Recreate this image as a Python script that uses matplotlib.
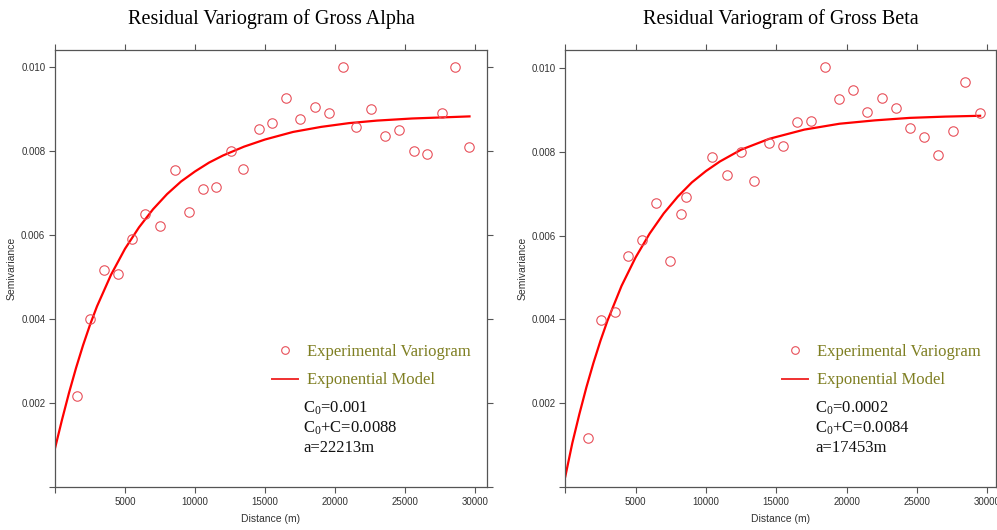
import matplotlib
matplotlib.use("Agg")
import matplotlib.pyplot as plt
from matplotlib.lines import Line2D

plt.rcParams['mathtext.fontset'] = 'custom'
plt.rcParams['mathtext.rm'] = 'Liberation Serif'
plt.rcParams['mathtext.it'] = 'Liberation Serif:italic'

# ---------------- data ----------------
alpha_lag = [1571, 2524, 3524, 4524, 5476, 6452, 7524, 8595, 9548, 10548, 11524, 12548,
             13452, 14571, 15524, 16500, 17524, 18548, 19548, 20548, 21524, 22595, 23571,
             24595, 25619, 26571, 27643, 28548, 29571]
alpha_gamma = [0.00216, 0.00401, 0.00517, 0.00506, 0.00591, 0.00649, 0.00622, 0.00754, 0.00654,
               0.00709, 0.00714, 0.00800, 0.00756, 0.00852, 0.00867, 0.00926, 0.00875, 0.00904,
               0.00889, 0.00999, 0.00857, 0.00900, 0.00836, 0.00850, 0.00799, 0.00793, 0.00890,
               0.00999, 0.00809]
alpha_model_h = [0, 500, 1000, 1500, 2000, 2500, 3000, 4000, 5000, 6000, 7000, 8000, 9000,
                 10000, 11000, 12000, 13500, 15000, 17000, 19000, 21000, 23000, 25500, 28000, 29600]
alpha_model_g = [0.00092, 0.00160, 0.00224, 0.00283, 0.00337, 0.00386, 0.00430, 0.00505, 0.00567,
                 0.00618, 0.00661, 0.00697, 0.00727, 0.00751, 0.00772, 0.00789, 0.00810, 0.00827,
                 0.00845, 0.00857, 0.00866, 0.00872, 0.00877, 0.00880, 0.00882]

beta_lag = [1593, 2539, 3535, 4481, 5476, 6430, 7468, 8250, 8564, 10434, 11479, 12497, 13400,
            14509, 15462, 16458, 17453, 18492, 19445, 20441, 21437, 22525, 23499, 24495, 25512,
            26472, 27539, 28431, 29495]
beta_gamma = [0.00116, 0.00399, 0.00417, 0.00552, 0.00590, 0.00678, 0.00540, 0.00652, 0.00691,
              0.00787, 0.00745, 0.00799, 0.00731, 0.00820, 0.00815, 0.00871, 0.00873, 0.01002,
              0.00927, 0.00947, 0.00894, 0.00928, 0.00904, 0.00858, 0.00836, 0.00793, 0.00849,
              0.00967, 0.00893]
beta_model_h = [0, 500, 1000, 1500, 2000, 2500, 3000, 4000, 5000, 6000, 7000, 8000, 9000, 10000,
                11000, 12500, 14500, 17000, 19500, 22000, 24500, 27000, 29500]
beta_model_g = [0.00025, 0.00105, 0.00174, 0.00238, 0.00296, 0.00349, 0.00397, 0.00480, 0.00548,
                0.00605, 0.00653, 0.00693, 0.00727, 0.00754, 0.00777, 0.00805, 0.00831, 0.00853,
                0.00867, 0.00875, 0.00881, 0.00884, 0.00886]

titles = ["Residual Variogram of Gross Alpha", "Residual Variogram of Gross Beta"]
param_lines = [["C$_\\mathrm{0}$=0.001", "C$_\\mathrm{0}$+C=0.0088", "a=22213m"],
               ["C$_\\mathrm{0}$=0.0002", "C$_\\mathrm{0}$+C=0.0084", "a=17453m"]]
xticks = [0, 5000, 10000, 15000, 20000, 25000, 30000]
xtick_labels = ["", "5000", "10000", "15000", "20000", "25000", "30000"]
yticks = [0, 0.002, 0.004, 0.006, 0.008, 0.010]
ytick_labels = ["", "0.002", "0.004", "0.006", "0.008", "0.010"]

# ---------------- figure ----------------
fig = plt.figure(figsize=(9.97, 5.30), dpi=100)
W, H = 997, 530
boxes = [(55, 50, 487, 487, 30850, 0.0104), (565.3, 50, 996, 487, 30630, 0.01043)]
data = [(alpha_lag, alpha_gamma, alpha_model_h, alpha_model_g),
        (beta_lag, beta_gamma, beta_model_h, beta_model_g)]

spine_col = '#555555'
pt_col = '#e8505a'
serif = 'Liberation Serif'
sans = 'Liberation Sans'

for i, (x0, y0, x1, y1, xmax, ymax) in enumerate(boxes):
    ax = fig.add_axes([x0 / W, 1 - y1 / H, (x1 - x0) / W, (y1 - y0) / H])
    lag, gam, mh, mg = data[i]
    ax.plot(mh, mg, color='#ff0000', lw=1.6, zorder=2)
    ax.plot(lag, gam, linestyle='none', marker='o', markersize=6.8, markerfacecolor='none',
            markeredgecolor=pt_col, markeredgewidth=0.8, zorder=3)
    ax.set_xlim(0, xmax)
    ax.set_ylim(0, ymax)
    ax.set_xticks(xticks)
    ax.set_xticklabels(xtick_labels)
    ax.set_yticks(yticks)
    ax.set_yticklabels(ytick_labels)
    ax.tick_params(axis='both', which='both', direction='out', length=4, width=0.8,
                   color=spine_col, labelsize=7, labelcolor='#333333', pad=3,
                   top=True, right=True, labeltop=False, labelright=False)
    for lab in ax.get_xticklabels() + ax.get_yticklabels():
        lab.set_fontfamily(sans)
    for s in ax.spines.values():
        s.set_color(spine_col)
        s.set_linewidth(0.9)
    ax.set_title(titles[i], fontfamily=serif, fontsize=14.5, pad=18.5)
    ax.set_xlabel("Distance (m)", fontfamily=sans, fontsize=7.5, color='#333333', labelpad=5)
    ax.set_ylabel("Semivariance", fontfamily=sans, fontsize=7.5, color='#333333', labelpad=3)

    handles = [Line2D([], [], linestyle='none', marker='o', markersize=5.5,
                      markerfacecolor='none', markeredgecolor=pt_col, markeredgewidth=0.8),
               Line2D([], [], color='#f03030', lw=1.4)]
    leg = ax.legend(handles, ["Experimental Variogram", "Exponential Model"],
                    loc='upper left', bbox_to_anchor=(0.502, 0.3265), frameon=False,
                    prop={'family': serif, 'size': 12}, handlelength=1.56,
                    handletextpad=0.55, borderpad=0, borderaxespad=0, labelspacing=0.73)
    for t in leg.get_texts():
        t.set_color('#7f7f22')
    tx = 0.574 if i == 0 else 0.58
    for k, (line, yy) in enumerate(zip(param_lines[i], [0.181, 0.135, 0.089])):
        ax.text(tx, yy, line, transform=ax.transAxes, fontfamily=serif, fontsize=12,
                va='center', ha='left', color='#111111')

fig.savefig("out.png", dpi=100)
